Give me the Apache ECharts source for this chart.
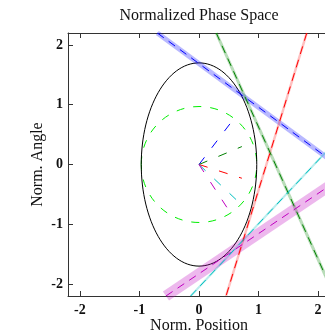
<!DOCTYPE html>
<html>
<head>
<meta charset="utf-8">
<script src="https://cdn.jsdelivr.net/npm/echarts@6/dist/echarts.min.js"></script>
<style>
html,body{margin:0;padding:0;background:#fff;}
#chart{width:325px;height:333px;}
</style>
</head>
<body>
<div id="chart"></div>
<script>
// ---- data ----
const xTicks = [-2, -1, 0, 1, 2];
const yTicks = [-2, -1, 0, 1, 2];
const measNames = ['blue', 'green', 'red', 'cyan', 'magenta'];
// measurement lines: start / end points (data units)
const lineFromX = [-0.70, 0.29, 1.81, -0.14, -0.555];
const lineFromY = [2.2, 2.2, 2.2, -2.2, -2.2];
const lineToX = [2.2, 2.2, 0.454, 2.2, 2.2];
const lineToY = [0.08, -2.03, -2.2, 0.28, -0.35];
// normal-direction rays from the origin
const rayEndX = [0.52, 0.72, 0.72, 0.69, 0.47];
const rayEndY = [0.68, 0.30, -0.23, -0.65, -0.72];
// beam ellipse and unit circle: [cx, cy, rx, ry]
const ellipseParams = [0, 0, 0.97, 1.70];
const circleParams = [0, 0, 0.97, 0.97];

// ---- styles ----
const lineColors = ['#0000ff', '#008000', '#ff0000', '#00bfbf', '#bf00bf'];
const bandColors = ['rgba(0,0,255,0.28)', 'rgba(0,128,0,0.28)', 'rgba(255,0,0,0.25)', 'rgba(0,191,191,0.28)', 'rgba(191,0,191,0.28)'];
const bandWidths = [5, 3, 2.5, 2, 11];

const FONT = 'Liberation Serif';
const chart = echarts.init(document.getElementById('chart'), null, {renderer: 'canvas'});

function ellipseSeries(p, color, dash) {
  return {
    type: 'custom',
    xAxisIndex: 0, yAxisIndex: 0,
    silent: true,
    encode: {x: 0, y: 1},
    data: [p],
    renderItem: function (params, api) {
      const c = api.coord([api.value(0), api.value(1)]);
      const s = api.size([api.value(2), api.value(3)]);
      return {
        type: 'ellipse',
        shape: {cx: c[0], cy: c[1], rx: s[0], ry: s[1]},
        style: {fill: 'none', stroke: color, lineWidth: 1, lineDash: dash}
      };
    }
  };
}

const series = [];
series.push(ellipseSeries(circleParams, '#00ee00', [8, 9]));
series.push(ellipseSeries(ellipseParams, '#000000', null));
// rays
measNames.forEach(function (n, i) {
  series.push({
    type: 'line', name: n + ' ray', silent: true, showSymbol: false, symbol: 'none',
    data: [[0, 0], [rayEndX[i], rayEndY[i]]],
    lineStyle: {color: lineColors[i], width: 1, type: [9, 12]}
  });
});
// bands
measNames.forEach(function (n, i) {
  series.push({
    type: 'line', name: n + ' band', silent: true, showSymbol: false, symbol: 'none',
    data: [[lineFromX[i], lineFromY[i]], [lineToX[i], lineToY[i]]],
    lineStyle: {color: bandColors[i], width: bandWidths[i]}
  });
});
// dashed measurement lines
measNames.forEach(function (n, i) {
  series.push({
    type: 'line', name: n + ' line', silent: true, showSymbol: false, symbol: 'none',
    data: [[lineFromX[i], lineFromY[i]], [lineToX[i], lineToY[i]]],
    lineStyle: {color: lineColors[i], width: 1, type: [8, 6]}
  });
});

const axisLineStyle = {show: true, onZero: false, lineStyle: {color: '#333', width: 1}};
const tickStyle = {show: true, inside: true, length: 5, lineStyle: {color: '#333'}};
const labelStyle = {fontFamily: FONT, fontSize: 14, fontWeight: 'bold', color: '#111'};

chart.setOption({
  animation: false,
  backgroundColor: '#fff',
  title: {
    text: 'Normalized Phase Space',
    left: 199, top: 8, padding: 0, textAlign: 'center',
    textStyle: {fontFamily: FONT, fontSize: 16, fontWeight: 'normal', color: '#111'}
  },
  grid: {left: 68, top: 33, width: 262, height: 263, containLabel: false, outerBoundsMode: 'none'},
  xAxis: [
    {
      type: 'value', min: -2.2, max: 2.2, position: 'bottom',
      axisLine: axisLineStyle,
      axisTick: Object.assign({customValues: xTicks}, tickStyle),
      axisLabel: Object.assign({customValues: xTicks, margin: 7}, labelStyle),
      splitLine: {show: false},
      name: 'Norm. Position', nameLocation: 'middle', nameGap: 22, nameMoveOverlap: false,
      nameTextStyle: {fontFamily: FONT, fontSize: 16, color: '#111'}
    },
    {
      type: 'value', min: -2.2, max: 2.2, position: 'top',
      axisLine: axisLineStyle,
      axisTick: Object.assign({customValues: xTicks}, tickStyle),
      axisLabel: {show: false},
      splitLine: {show: false}
    }
  ],
  yAxis: [
    {
      type: 'value', min: -2.2, max: 2.2, position: 'left',
      axisLine: axisLineStyle,
      axisTick: Object.assign({customValues: yTicks}, tickStyle),
      axisLabel: Object.assign({customValues: yTicks, margin: 5}, labelStyle),
      splitLine: {show: false},
      name: 'Norm. Angle', nameLocation: 'middle', nameGap: 22, nameMoveOverlap: false,
      nameTextStyle: {fontFamily: FONT, fontSize: 16, color: '#111'}
    },
    {
      type: 'value', min: -2.2, max: 2.2, position: 'right',
      axisLine: axisLineStyle,
      axisTick: Object.assign({customValues: yTicks}, tickStyle),
      axisLabel: {show: false},
      splitLine: {show: false}
    }
  ],
  series: series
});
</script>
</body>
</html>
